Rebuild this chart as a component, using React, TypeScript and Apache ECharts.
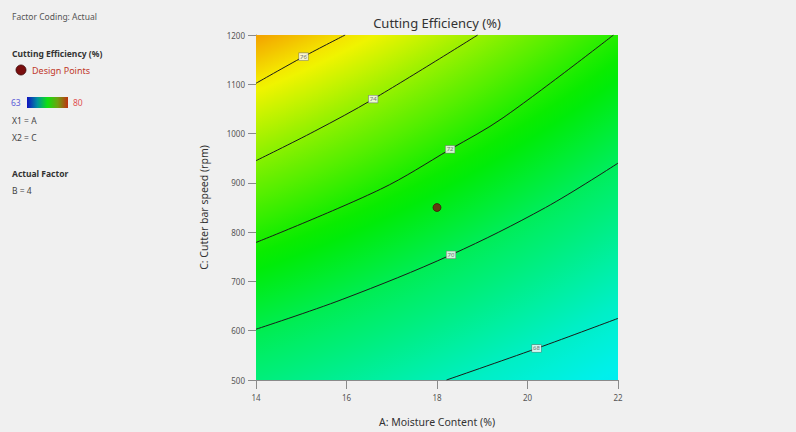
import React, { useEffect, useRef } from "react";
import * as echarts from "echarts";

// ---- data ----
const xTicks = [14, 16, 18, 20, 22];
const yTicks = [500, 600, 700, 800, 900, 1000, 1100, 1200];
const colorRange = [63, 80];
const levels = [76, 74, 72, 70, 68];
const contour76 = [[14, 1102], [15.05, 1156], [15.97, 1200]];
const contour74 = [[14, 945], [15.3, 1005], [16.59, 1070], [18.9, 1200]];
const contour72 = [[14, 779], [16.75, 887], [18.29, 968], [19.46, 1032], [21.9, 1200]];
const contour70 = [[14, 603], [15.92, 664], [18.31, 754], [20.4, 850], [22, 940]];
const contour68 = [[18.21, 500], [20.2, 564], [22, 625]];
const contourLabelPos = [[15.05, 1156], [16.59, 1070], [18.29, 968], [18.31, 754], [20.2, 564]];
const designPoints = [[18, 850]];
const cornerEstimates = [[14, 1200, 77.2], [22, 500, 67.2]];
const surfaceCenter = [4, 3350]; // centre of curvature of the contour lines (data units)
const colorMap = ["#1414f0", "#00f0f0", "#00ec00", "#f4f400", "#f00000"];

const contours = [contour76, contour74, contour72, contour70, contour68];

function hexToRgb(h: string) {
  return [parseInt(h.slice(1, 3), 16), parseInt(h.slice(3, 5), 16), parseInt(h.slice(5, 7), 16)];
}
function colorOf(v: number) {
  let t = (v - colorRange[0]) / (colorRange[1] - colorRange[0]);
  t = Math.max(0, Math.min(1, t));
  const n = colorMap.length - 1;
  const i = Math.min(n - 1, Math.floor(t * n));
  const f = t * n - i;
  const a = hexToRgb(colorMap[i]);
  const b = hexToRgb(colorMap[i + 1]);
  const c = a.map((x, k) => Math.round(x + (b[k] - x) * f));
  return `rgb(${c[0]},${c[1]},${c[2]})`;
}

const FONT = "'Noto Sans', 'DejaVu Sans', sans-serif";

export default function App() {
  const ref = useRef<HTMLDivElement>(null);
  useEffect(() => {
    if (!ref.current) return;
    const chart = echarts.init(ref.current, undefined, { renderer: "svg" });
    const plotLeft = 256, plotTop = 35, plotRight = 618, plotBottom = 380;

    const lineSeries = contours.map((pts, i) => ({
      type: "line",
      name: "level " + levels[i],
      data: pts,
      smooth: 0.35,
      showSymbol: false,
      symbol: "none",
      silent: true,
      clip: true,
      z: 3,
      lineStyle: { color: "#1a1a1a", width: 1 },
    }));

    const option: any = {
      animation: false,
      backgroundColor: "#f0f0f0",
      textStyle: { fontFamily: FONT },
      grid: { left: plotLeft, top: plotTop, right: 796 - plotRight, bottom: 432 - plotBottom, containLabel: false },
      xAxis: {
        type: "value",
        min: xTicks[0],
        max: xTicks[xTicks.length - 1],
        interval: 2,
        name: "A: Moisture Content (%)",
        nameLocation: "middle",
        nameGap: 36,
        nameTextStyle: { fontSize: 10.5, color: "#333", fontFamily: FONT },
        axisLine: { show: true, lineStyle: { color: "#8a8a8a", width: 1 } },
        axisTick: { show: true, length: 9, lineStyle: { color: "#8a8a8a" } },
        axisLabel: { fontSize: 8, color: "#555", margin: 13, fontFamily: FONT, formatter: (v: number) => String(v) },
        splitLine: { show: false },
      },
      yAxis: {
        type: "value",
        min: yTicks[0],
        max: yTicks[yTicks.length - 1],
        interval: 100,
        name: "C: Cutter bar speed (rpm)",
        nameLocation: "middle",
        nameGap: 47,
        nameTextStyle: { fontSize: 10.5, color: "#333", fontFamily: FONT },
        axisLine: { show: true, lineStyle: { color: "#8a8a8a", width: 1 } },
        axisTick: { show: true, length: 8, lineStyle: { color: "#8a8a8a" } },
        axisLabel: { fontSize: 8, color: "#555", margin: 11, fontFamily: FONT, formatter: (v: number) => String(v) },
        splitLine: { show: false },
      },
      series: [
        {
          type: "custom",
          silent: true,
          clip: true,
          z: 1,
          data: [[xTicks[0], yTicks[0]]],
          renderItem: (_params: any, api: any) => {
            const p0 = api.coord([xTicks[0], yTicks[yTicks.length - 1]]);
            const p1 = api.coord([xTicks[xTicks.length - 1], yTicks[0]]);
            const c = api.coord(surfaceCenter);
            const dist = (pt: number[]) => Math.hypot(pt[0] - c[0], pt[1] - c[1]);
            const entries: number[][] = [];
            contours.forEach((pts, i) => {
              const ds = pts.map((p) => dist(api.coord(p)));
              entries.push([ds.reduce((s, d) => s + d, 0) / ds.length, levels[i]]);
            });
            cornerEstimates.forEach(([a, cc, v]) => entries.push([dist(api.coord([a, cc])), v]));
            entries.sort((a, b) => a[0] - b[0]);
            const R = entries[entries.length - 1][0];
            const stops: any[] = [];
            for (let k = 0; k < entries.length; k++) {
              const [d, v] = entries[k];
              stops.push({ offset: d / R, color: colorOf(v) });
              if (k < entries.length - 1) {
                const [d2, v2] = entries[k + 1];
                const steps = 6;
                for (let s = 1; s < steps; s++) {
                  const f = s / steps;
                  stops.push({ offset: (d + (d2 - d) * f) / R, color: colorOf(v + (v2 - v) * f) });
                }
              }
            }
            return {
              type: "rect",
              shape: { x: p0[0], y: p0[1], width: p1[0] - p0[0], height: p1[1] - p0[1] },
              style: { fill: new echarts.graphic.RadialGradient(c[0], c[1], R, stops, true) },
            };
          },
        },
        ...lineSeries,
        {
          type: "scatter",
          name: "labels",
          data: contourLabelPos.map((p, i) => [p[0], p[1], levels[i]]),
          symbolSize: 0,
          silent: true,
          z: 4,
          label: {
            show: true,
            position: "inside",
            formatter: (p: any) => String(p.value[2]),
            fontSize: 6,
            color: "#555",
            backgroundColor: "#ffffff",
            borderColor: "#777",
            borderWidth: 0.6,
            padding: [1, 1, 0, 1],
            fontFamily: FONT,
          },
        },
        {
          type: "scatter",
          name: "Design Points",
          data: designPoints,
          symbol: "circle",
          symbolSize: 8,
          silent: true,
          z: 5,
          itemStyle: { color: "#7a0e0e", borderColor: "#3a0505", borderWidth: 0.8 },
        },
      ],
      graphic: [
        { type: "text", x: 437, y: 23, style: { text: "Cutting Efficiency (%)", fontSize: 13, fill: "#333", fontFamily: FONT, align: "center", verticalAlign: "middle" } },
        { type: "text", x: 12, y: 16, style: { text: "Factor Coding: Actual", fontSize: 8.5, fill: "#555", fontFamily: FONT, verticalAlign: "middle" } },
        { type: "text", x: 12, y: 53, style: { text: "Cutting Efficiency (%)", fontSize: 8.5, fontWeight: "bold", fill: "#333", fontFamily: FONT, verticalAlign: "middle" } },
        { type: "circle", shape: { cx: 21, cy: 70, r: 5 }, style: { fill: "#7a0e0e", stroke: "#3a0505", lineWidth: 0.8 } },
        { type: "text", x: 32, y: 70, style: { text: "Design Points", fontSize: 9, fill: "#c0392b", fontFamily: FONT, verticalAlign: "middle" } },
        { type: "text", x: 11, y: 102, style: { text: String(colorRange[0]), fontSize: 8.5, fill: "#5a5ad8", fontFamily: FONT, verticalAlign: "middle" } },
        {
          type: "rect",
          shape: { x: 27, y: 97, width: 41, height: 11 },
          style: {
            fill: new echarts.graphic.LinearGradient(0, 0, 1, 0, [
              { offset: 0, color: "#1010c0" },
              { offset: 0.25, color: "#0090a0" },
              { offset: 0.5, color: "#10e010" },
              { offset: 0.75, color: "#70a010" },
              { offset: 1, color: "#c03010" },
            ]),
          },
        },
        { type: "text", x: 73, y: 102, style: { text: String(colorRange[1]), fontSize: 8.5, fill: "#e05050", fontFamily: FONT, verticalAlign: "middle" } },
        { type: "text", x: 12, y: 120, style: { text: "X1 = A", fontSize: 8.5, fill: "#444", fontFamily: FONT, verticalAlign: "middle" } },
        { type: "text", x: 12, y: 137, style: { text: "X2 = C", fontSize: 8.5, fill: "#444", fontFamily: FONT, verticalAlign: "middle" } },
        { type: "text", x: 12, y: 173, style: { text: "Actual Factor", fontSize: 8.5, fontWeight: "bold", fill: "#333", fontFamily: FONT, verticalAlign: "middle" } },
        { type: "text", x: 12, y: 190, style: { text: "B = 4", fontSize: 8.5, fill: "#444", fontFamily: FONT, verticalAlign: "middle" } },
      ],
    };
    chart.setOption(option);
    return () => chart.dispose();
  }, []);
  return (
    <div
      ref={ref}
      style={{ position: "fixed", left: 0, top: 0, width: 796, height: 432, background: "#f0f0f0" }}
    />
  );
}
